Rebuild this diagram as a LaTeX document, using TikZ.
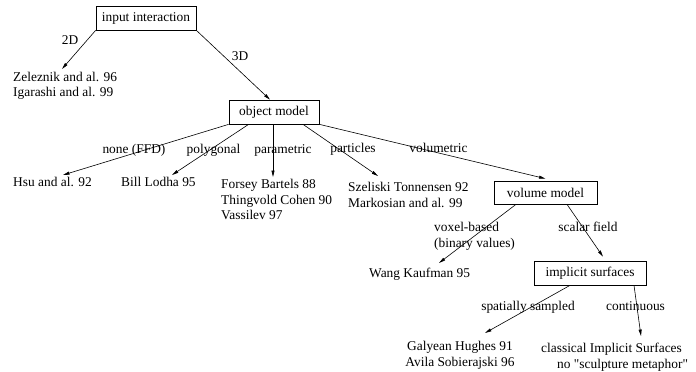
\documentclass[tikz,border=0pt]{standalone}
\usepackage{fontspec}
\setmainfont{Liberation Serif}[Ligatures=TeXOff]
\usetikzlibrary{arrows.meta}
\begin{document}
\begin{tikzpicture}[x=1pt,y=-1pt,
	font=\fontsize{13.4}{15.5}\selectfont,
	box/.style={draw,line width=0.7pt,inner sep=0pt,minimum height=24pt},
	lbl/.style={inner sep=0pt,text height=0.69em,text depth=0.21em},
	ref/.style={inner sep=0pt,align=left,anchor=north west},
	link/.style={line width=0.6pt,-{Triangle[length=6.5pt,width=3pt]}}]
	\useasboundingbox (0,0) rectangle (696,372);
	% Boxes
	\node[box,minimum width=100pt] (input) at (146,18) {input interaction};
	\node[box,minimum width=90pt] (obj) at (274,112) {object model};
	\node[box,minimum width=103pt,minimum height=23pt] (vol) at (545.5,192.5) {volume model};
	\node[box,minimum width=112pt] (imp) at (590,273) {implicit surfaces};
	% References
	\node[ref] (zel) at (13,72) {Zeleznik and al. 96\\Igarashi and al. 99};
	\node[ref] (hsu) at (13,177) {Hsu and al. 92};
	\node[ref] (bill) at (121,177) {Bill Lodha 95};
	\node[ref] (for) at (221,179) {Forsey Bartels 88\\Thingvold Cohen 90\\Vassilev 97};
	\node[ref] (sze) at (348,182) {Szeliski Tonnensen 92\\Markosian and al. 99};
	\node[ref] (wang) at (369,268) {Wang Kaufman 95};
	\node[ref,align=center,anchor=north] (gal) at (460,341) {Galyean Hughes 91\\Avila Sobierajski 96};
	\node[ref] (cla) at (541,343) {classical Implicit Surfaces\\\hspace*{16pt}no "sculpture metaphor"};
	% Arrows
	\draw[link] (input.south west) -- ([xshift=49pt,yshift=3pt]zel.north west);
	\draw[link] (input.south east) -- ([xshift=-4pt]obj.north);
	\draw[link] (obj.south west) -- ([xshift=50pt,yshift=2pt]hsu.north west);
	\draw[link] ([xshift=20pt]obj.south west) -- ([xshift=51pt,yshift=2pt]bill.north west);
	\draw[link] ([xshift=-1pt]obj.south) -- ([xshift=52pt,yshift=2pt]for.north west);
	\draw[link] ([xshift=29pt]obj.south) -- ([xshift=30pt,yshift=6pt]sze.north west);
	\draw[link] (obj.south east) -- ([yshift=2pt]vol.north);
	\draw[link] ([xshift=-29.5pt]vol.south) -- ([xshift=70pt,yshift=5pt]wang.north west);
	\draw[link] ([xshift=21.5pt]vol.south) -- ([xshift=13pt,yshift=4pt]imp.north);
	\draw[link] ([xshift=-20pt]imp.south) -- ([xshift=25pt,yshift=8pt]gal.north);
	\draw[link] ([xshift=44pt]imp.south) -- ([xshift=100pt,yshift=7pt]cla.north west);
	% Labels
	\node[lbl] (l2d) at (70,42) {2D};
	\node[lbl] (l3d) at (240,58) {3D};
	\node[lbl] (lnone) at (134,151) {none (FFD)};
	\node[lbl] (lpoly) at (213.5,151) {polygonal};
	\node[lbl] (lpara) at (283,151) {parametric};
	\node[lbl] (lpart) at (353,150) {particles};
	\node[lbl] (lvolu) at (438.5,150) {volumetric};
	\node[ref] (lvox) at (434,222) {voxel-based\\(binary values)};
	\node[lbl] (lsca) at (588,229) {scalar field};
	\node[lbl] (lspa) at (528,308) {spatially sampled};
	\node[lbl] (lcon) at (635.5,308) {continuous};
\end{tikzpicture}
\end{document}
